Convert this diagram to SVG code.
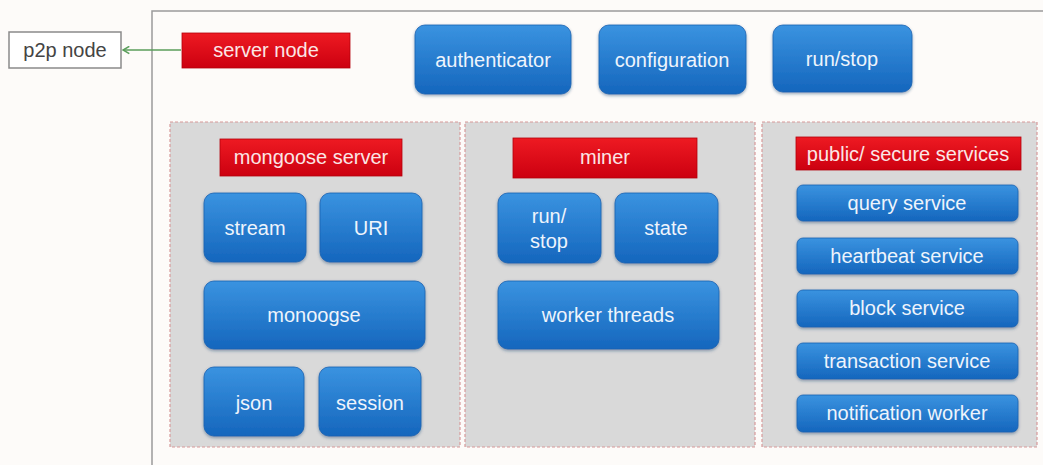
<svg xmlns="http://www.w3.org/2000/svg" width="1043" height="465" viewBox="0 0 1043 465">
  <defs>
    <linearGradient id="blueFill" x1="0" y1="0" x2="0" y2="1">
      <stop offset="0" stop-color="#3a93e0"/>
      <stop offset="1" stop-color="#1566bd"/>
    </linearGradient>
    <linearGradient id="redFill" x1="0" y1="0" x2="0" y2="1">
      <stop offset="0" stop-color="#ee1a22"/>
      <stop offset="1" stop-color="#cc0010"/>
    </linearGradient>
    <filter id="shadow" x="-10%" y="-10%" width="120%" height="130%">
      <feDropShadow dx="0" dy="1.5" stdDeviation="1.5" flood-color="#1a3a6a" flood-opacity="0.45"/>
    </filter>
    <marker id="arrowHead" viewBox="0 0 10 10" refX="9" refY="5" markerWidth="9" markerHeight="9" orient="auto" markerUnits="userSpaceOnUse">
      <path d="M2,1 L9,5 L2,9" fill="none" stroke="#5a9e5a" stroke-width="1.8"/>
    </marker>
    <style>
      .frame { fill: none; stroke: #9a9a9a; stroke-width: 1.5; }
      .panel { fill: #d9d9d9; stroke: #d89a9a; stroke-width: 1.2; stroke-dasharray: 3 2; }
      .blue { fill: url(#blueFill); stroke: #1a62b2; stroke-width: 0.8; filter: url(#shadow); }
      .red { fill: url(#redFill); stroke: #b3000c; stroke-width: 0.8; }
      .plain { fill: #ffffff; stroke: #8a8a8a; stroke-width: 1.5; }
      text { font-family: "Liberation Sans", Arial, Helvetica, sans-serif; font-size: 20px; text-anchor: middle; }
      .lt { fill: #eef4fc; }
      .rt { fill: #fbe6e6; }
      .dk { fill: #444444; }
      .conn { fill: none; stroke: #5a9e5a; stroke-width: 1.5; }
    </style>
  </defs>

  <rect x="0" y="0" width="1043" height="465" fill="#fdfbf9"/>

  <!-- outer server frame (continues past the right and bottom edges) -->
  <rect class="frame" x="152" y="11" width="900" height="470"/>

  <!-- external peer -->
  <g id="p2p-node">
    <rect class="plain" x="9" y="32" width="112" height="36"/>
    <text class="dk" x="65" y="57">p2p node</text>
  </g>

  <g id="server-node">
    <rect class="red" x="182" y="33" width="168" height="35"/>
    <text class="rt" x="266" y="57">server node</text>
  </g>

  <g id="authenticator">
    <rect class="blue" x="415" y="25" width="156" height="69" rx="10"/>
    <text class="lt" x="493" y="67">authenticator</text>
  </g>
  <g id="configuration">
    <rect class="blue" x="599" y="25" width="147" height="69" rx="10"/>
    <text class="lt" x="672" y="67">configuration</text>
  </g>
  <g id="run-stop">
    <rect class="blue" x="773" y="25" width="139" height="67" rx="10"/>
    <text class="lt" x="842" y="66">run/stop</text>
  </g>

  <!-- mongoose server panel -->
  <g id="mongoose-panel">
    <rect class="panel" x="170" y="122" width="290" height="325"/>
  </g>
  <g id="mongoose-server">
    <rect class="red" x="220" y="139" width="182" height="37"/>
    <text class="rt" x="311" y="164">mongoose server</text>
  </g>
  <g id="stream">
    <rect class="blue" x="204" y="193" width="102" height="69" rx="10"/>
    <text class="lt" x="255" y="235">stream</text>
  </g>
  <g id="uri">
    <rect class="blue" x="320" y="193" width="102" height="69" rx="10"/>
    <text class="lt" x="371" y="235">URI</text>
  </g>
  <g id="monoogse">
    <rect class="blue" x="204" y="281" width="221" height="68" rx="10"/>
    <text class="lt" x="314" y="322">monoogse</text>
  </g>
  <g id="json">
    <rect class="blue" x="204" y="367" width="100" height="69" rx="10"/>
    <text class="lt" x="254" y="410">json</text>
  </g>
  <g id="session">
    <rect class="blue" x="319" y="367" width="102" height="69" rx="10"/>
    <text class="lt" x="370" y="410">session</text>
  </g>

  <!-- miner panel -->
  <g id="miner-panel">
    <rect class="panel" x="465" y="122" width="290" height="325"/>
  </g>
  <g id="miner">
    <rect class="red" x="513" y="138" width="184" height="40"/>
    <text class="rt" x="605" y="164">miner</text>
  </g>
  <g id="miner-run-stop">
    <rect class="blue" x="498" y="193" width="103" height="70" rx="10"/>
    <text class="lt" x="549" y="223">run/</text>
    <text class="lt" x="549" y="248">stop</text>
  </g>
  <g id="state">
    <rect class="blue" x="615" y="193" width="103" height="70" rx="10"/>
    <text class="lt" x="666" y="235">state</text>
  </g>
  <g id="worker-threads">
    <rect class="blue" x="498" y="281" width="221" height="68" rx="10"/>
    <text class="lt" x="608" y="322">worker threads</text>
  </g>

  <!-- services panel -->
  <g id="services-panel">
    <rect class="panel" x="762" y="122" width="275" height="325"/>
  </g>
  <g id="public-secure-services">
    <rect class="red" x="796" y="137" width="225" height="33"/>
    <text class="rt" x="908" y="161">public/ secure services</text>
  </g>
  <g id="query-service">
    <rect class="blue" x="797" y="185" width="221" height="36" rx="6"/>
    <text class="lt" x="907" y="210">query service</text>
  </g>
  <g id="heartbeat-service">
    <rect class="blue" x="797" y="238" width="221" height="36" rx="6"/>
    <text class="lt" x="907" y="263">heartbeat service</text>
  </g>
  <g id="block-service">
    <rect class="blue" x="797" y="290" width="221" height="37" rx="6"/>
    <text class="lt" x="907" y="315">block service</text>
  </g>
  <g id="transaction-service">
    <rect class="blue" x="797" y="343" width="221" height="36" rx="6"/>
    <text class="lt" x="907" y="368">transaction service</text>
  </g>
  <g id="notification-worker">
    <rect class="blue" x="797" y="395" width="221" height="37" rx="6"/>
    <text class="lt" x="907" y="420">notification worker</text>
  </g>

  <g id="connectors">
    <line class="conn" x1="181" y1="50" x2="123" y2="50" marker-end="url(#arrowHead)"/>
  </g>
</svg>
